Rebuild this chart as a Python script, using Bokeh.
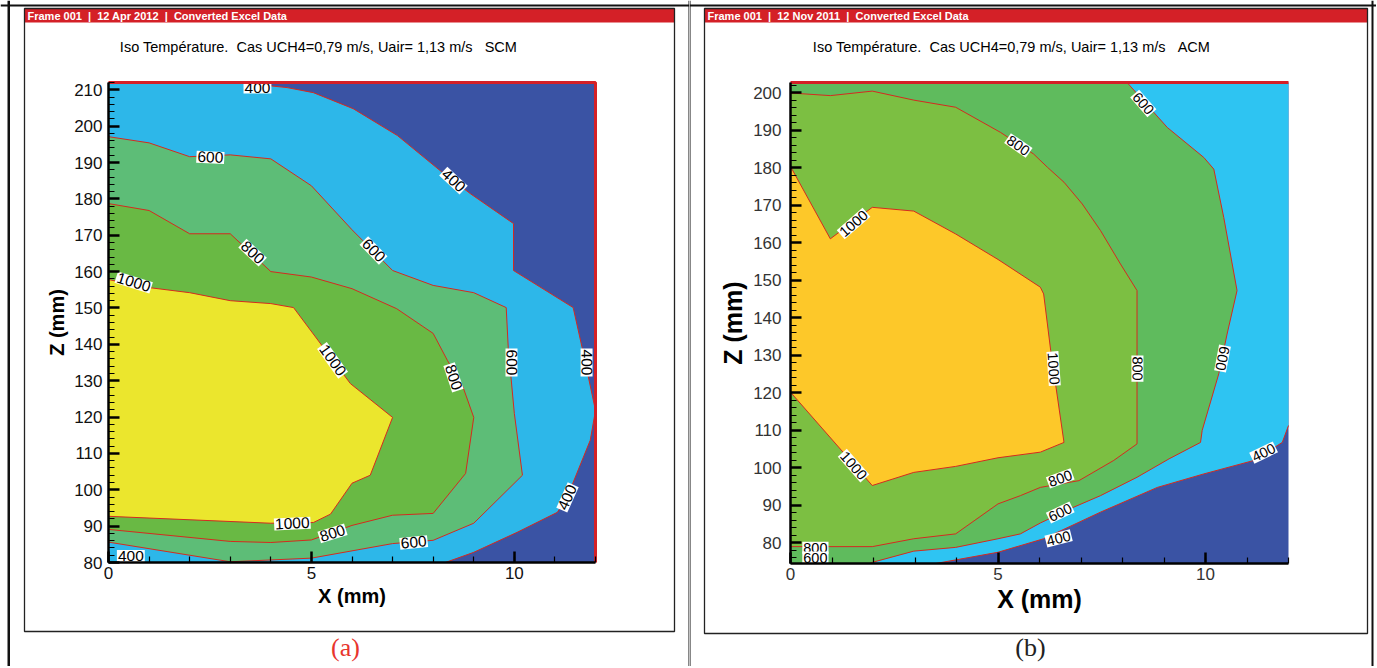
from bokeh.plotting import figure
from bokeh.layouts import row
from bokeh.models import LinearAxis, FixedTicker, Range1d
from bokeh.core.properties import value
from bokeh.embed import file_html
from bokeh.resources import INLINE

# ---------------- data : panel (a) SCM ----------------
A_X_LIM = (0, 12)
A_Z_LIM = (80, 212)
a_x_ticks = [0, 5, 10]
a_z_ticks = list(range(80, 211, 10))

a_iso400_x = [3.2, 4.4, 5.05, 6.03, 7.12, 8.18, 8.92, 9.98, 9.98, 11.45, 11.67, 12.0, 11.87, 11.3, 11.06, 10.07, 9.0, 8.3]
a_iso400_z = [212, 210.6, 209.2, 204.8, 197.4, 187.7, 181.4, 173.2, 160.3, 150.1, 139.1, 121.8, 113.6, 97.9, 93.8, 88.3, 82.8, 80]

a_iso600_x = [0, 1.0, 2.0, 3.0, 4.0, 5.0, 6.0, 7.0, 8.0, 9.0, 9.8, 9.85, 10.0, 10.2, 9.0, 8.0, 7.0, 5.0, 3.0, 0]
a_iso600_z = [197.1, 195.4, 191.6, 192.1, 191.0, 183.6, 171.5, 160.3, 156.2, 154.2, 150.1, 139.1, 121.0, 104.0, 90.8, 86.1, 85.2, 81.2, 80.2, 85.6]

a_iso800_x = [0, 1.0, 2.0, 3.0, 4.0, 5.0, 6.0, 7.1, 8.0, 8.35, 8.74, 9.0, 8.8, 8.0, 7.0, 6.0, 5.0, 4.0, 3.0, 0]
a_iso800_z = [178.7, 176.8, 170.4, 170.4, 160.0, 158.5, 155.3, 149.8, 143.0, 135.6, 128.1, 119.9, 104.5, 93.5, 93.0, 90.2, 86.2, 85.5, 85.8, 89.1]

a_iso1000_x = [0, 1.0, 2.0, 3.0, 4.0, 4.56, 5.96, 7.0, 6.45, 6.0, 5.47, 5.05, 4.0, 0]
a_iso1000_z = [157.8, 155.6, 154.2, 152.0, 151.2, 150.1, 129.2, 119.9, 104.0, 101.8, 93.3, 91.0, 90.8, 92.7]

a_labels = [  # (x, z, text, angle)
    (3.67, 210.6, "400", 0.0), (2.51, 191.4, "600", -0.05), (3.55, 165.2, "800", -0.75),
    (0.62, 157.0, "1000", -0.3), (8.5, 185.0, "400", -0.75), (6.53, 165.8, "600", -0.8),
    (5.52, 135.6, "1000", -0.95), (8.5, 130.9, "800", -1.25), (9.93, 135.0, "600", -1.57),
    (11.78, 135.0, "400", -1.57), (11.31, 97.9, "400", 1.15), (4.53, 90.7, "1000", 0.05),
    (5.52, 88.0, "800", 0.3), (7.52, 85.5, "600", 0.1), (0.55, 81.8, "400", 0.0),
]

# ---------------- data : panel (b) ACM ----------------
B_X_LIM = (0, 12)
B_Z_LIM = (74.4, 202.7)
b_x_ticks = [0, 5, 10]
b_z_ticks = list(range(80, 201, 10))

b_iso400_x = [3.5, 5.0, 6.1, 7.47, 8.84, 9.96, 11.17, 11.85, 12.0]
b_iso400_z = [74.4, 77.4, 81.0, 88.1, 94.7, 98.3, 101.9, 106.7, 111.2]

b_iso600_x = [1.9, 1.97, 2.97, 3.98, 5.0, 5.54, 6.02, 6.8, 7.47, 8.35, 9.12, 9.88, 9.92, 10.32, 10.52, 10.76, 10.44, 10.2, 9.96, 9.08, 8.11]
b_iso600_z = [74.4, 74.7, 77.7, 78.7, 81.0, 82.3, 85.2, 89.3, 92.5, 97.4, 102.3, 106.7, 109.9, 125.0, 135.6, 147.2, 166.7, 179.6, 182.7, 190.7, 202.7]

b_iso800_x = [0, 1.97, 2.97, 3.98, 5.0, 5.54, 6.02, 6.95, 7.79, 8.35, 8.35, 7.95, 7.47, 7.03, 6.59, 6.19, 5.86, 5.06, 3.98, 2.97, 1.97, 0.96, 0]
b_iso800_z = [78.9, 78.9, 81.0, 82.3, 90.3, 92.5, 94.7, 96.5, 101.9, 106.3, 147.2, 154.3, 163.2, 170.3, 176.1, 180.1, 183.6, 189.4, 196.1, 198.0, 200.4, 199.2, 199.9]

b_iso1000_x = [0, 0.96, 1.97, 2.97, 3.98, 5.0, 6.02, 6.1, 6.27, 6.59, 6.02, 5.0, 3.98, 2.97, 1.97, 0]
b_iso1000_z = [180.3, 161.0, 169.4, 168.4, 162.3, 155.5, 148.1, 146.3, 131.2, 106.7, 104.1, 102.6, 100.3, 98.7, 95.2, 120.1]

b_labels = [
    (5.49, 185.9, "800", -0.6), (1.52, 165.1, "1000", 0.72), (8.5, 197.1, "600", -0.85),
    (6.34, 126.4, "1000", -1.5), (8.36, 126.4, "800", -1.57), (10.41, 129.1, "600", -1.76),
    (11.4, 104.0, "400", 0.45), (6.5, 97.1, "800", 0.35), (6.5, 88.0, "600", 0.45),
    (6.46, 81.1, "400", 0.25), (1.52, 100.5, "1000", -0.85), (0.6, 78.6, "800", 0.0),
    (0.6, 76.0, "600", 0.0),
]

NB = "\u00a0"
A_HEADER = f"Frame 001{NB}{NB}|{NB}{NB}12 Apr 2012{NB}{NB}|{NB}{NB}Converted Excel Data"
B_HEADER = f"Frame 001{NB}{NB}|{NB}{NB}12 Nov 2011{NB}{NB}|{NB}{NB}Converted Excel Data"
A_TITLE = f"Iso Température.{NB}{NB}Cas UCH4=0,79 m/s, Uair= 1,13 m/s{NB}{NB}{NB}SCM"
B_TITLE = f"Iso Température.{NB}{NB}Cas UCH4=0,79 m/s, Uair= 1,13 m/s{NB}{NB}{NB}ACM"

A_COLORS = ["#3A53A4", "#2DB7E9", "#5DBD77", "#69B944", "#EBE62D"]
B_COLORS = ["#3A53A4", "#2EC4F2", "#5FBB5D", "#7CBF42", "#FDC829"]
LINE_RED = "#D42A20"
HEADER_RED = "#D42027"
FONT = "Liberation Sans"
HEIGHT = 666


def make_mapper(px0, px1, xlim, py0, py1, zlim):
    """page pixel -> data coordinate (plot box given by its page pixels)"""
    def fx(px):
        return xlim[0] + (px - px0) * (xlim[1] - xlim[0]) / (px1 - px0)

    def fy(py):
        return zlim[1] - (py - py0) * (zlim[1] - zlim[0]) / (py1 - py0)
    return fx, fy


def build(xlim, zlim, x_ticks, z_ticks, lines, colors, labels, canvas_left, width,
          plot_px, tick_size, tick_color, label_size, label_font_size, ystandoff, xlabel_standoff,
          red_right, deco):
    fx, fy = make_mapper(plot_px[0], plot_px[1], xlim, plot_px[2], plot_px[3], zlim)
    p = figure(width=width, height=HEIGHT,
               x_range=Range1d(fx(canvas_left), fx(canvas_left + width)),
               y_range=Range1d(fy(HEIGHT), fy(0)),
               x_axis_location=None, y_axis_location=None,
               output_backend="svg", toolbar_location=None,
               min_border_left=0, min_border_right=0, min_border_top=0, min_border_bottom=0)
    p.background_fill_color = "white"
    p.border_fill_color = "white"
    p.outline_line_color = None
    p.grid.visible = False

    # ---- page decorations (panel box, header bar, title, caption, table rules)
    box = deco["box"]
    p.quad(left=[fx(box[0])], right=[fx(box[2])], top=[fy(box[1])], bottom=[fy(box[1] + 14)],
           fill_color=HEADER_RED, line_color=None)
    p.quad(left=[fx(box[0])], right=[fx(box[2])], top=[fy(box[1])], bottom=[fy(box[3])],
           fill_color=None, line_color="#222222", line_width=1.3)
    for (x0, x1) in deco["rules"]:
        p.quad(left=[fx(x0)], right=[fx(x1)], top=[fy(0)], bottom=[fy(HEIGHT)],
               fill_color="#111111", line_color=None)
    p.quad(left=[fx(canvas_left)], right=[fx(canvas_left + width)], top=[fy(4)], bottom=[fy(6)],
           fill_color="#111111", line_color=None)
    p.text(x=[fx(box[0] + 3)], y=[fy(box[1] + 7.5)], text=[deco["header"]], text_color="white",
           text_font=value(FONT), text_font_style="bold", text_font_size=value("11px"),
           text_baseline="middle", text_align="left")
    p.text(x=[fx(deco["title_cx"])], y=[fy(46)], text=[deco["title"]], text_color="black",
           text_font=value(FONT), text_font_size=value("14.5px"),
           text_baseline="middle", text_align="center")
    p.text(x=[fx(deco["tag_cx"])], y=[fy(647)], text=[deco["tag"]], text_color=deco["tag_color"],
           text_font=value("Liberation Serif"), text_font_size=value("26px"),
           text_baseline="middle", text_align="center")

    # ---- plot area
    p.quad(left=[xlim[0]], right=[xlim[1]], bottom=[zlim[0]], top=[zlim[1]],
           fill_color=colors[0], line_color=None)
    for k, (xs, zs) in enumerate(lines):
        px, pz = list(xs), list(zs)
        if k == 0:
            if zs[-1] > zlim[0] + 1:   # 400 line ends on the right edge
                px += [xlim[1], xlim[0], xlim[0]]
                pz += [zlim[1], zlim[1], zlim[0]]
            else:                      # 400 line ends on the bottom edge
                px += [xlim[0], xlim[0]]
                pz += [zlim[0], zlim[1]]
        elif xs[0] != 0 or xs[-1] != 0:
            px += [xlim[0], xlim[0]]
            pz += [zlim[1], zlim[0]]
        p.patch(px, pz, fill_color=colors[k + 1], line_color=None)
    for xs, zs in lines:
        p.line(list(xs), list(zs), line_color=LINE_RED, line_width=1)

    p.text(x=[l[0] for l in labels], y=[l[1] for l in labels], text=[l[2] for l in labels],
           angle=[l[3] for l in labels], text_align="center", text_baseline="middle",
           text_font=value(FONT), text_font_size=value(label_font_size), text_color="black",
           background_fill_color="white", padding=1)

    # red frame edges
    if red_right:
        p.line([xlim[0], xlim[1], xlim[1]], [zlim[1], zlim[1], zlim[0]], line_color=HEADER_RED, line_width=3)
    else:
        p.line([xlim[0], xlim[1]], [zlim[1], zlim[1]], line_color=HEADER_RED, line_width=3)

    # ---- axes fixed on the plot box
    xa = LinearAxis(fixed_location=zlim[0], bounds=xlim, axis_label="X (mm)")
    ya = LinearAxis(fixed_location=xlim[0], bounds=zlim, axis_label="Z (mm)")
    xa.ticker = FixedTicker(ticks=x_ticks, minor_ticks=list(range(int(xlim[0]), int(xlim[1]) + 1)))
    ya.ticker = FixedTicker(ticks=z_ticks,
                            minor_ticks=[z for z in range(70, 214, 2) if zlim[0] <= z <= zlim[1]])
    for ax in (xa, ya):
        ax.major_tick_in = 11
        ax.major_tick_out = 0
        ax.minor_tick_in = 6
        ax.minor_tick_out = 0
        ax.major_tick_line_width = 2.5
        ax.minor_tick_line_width = 1.2
        ax.axis_line_width = 2.5
        ax.axis_line_color = "black"
        ax.major_label_text_font = FONT
        ax.major_label_text_font_size = tick_size
        ax.major_label_text_color = tick_color
        ax.axis_label_text_font = FONT
        ax.axis_label_text_font_style = "bold"
        ax.axis_label_text_font_size = label_size
        ax.axis_label_text_color = "black"
    ya.major_label_standoff = ystandoff
    ya.axis_label_standoff = 3
    xa.major_label_standoff = 4
    xa.axis_label_standoff = xlabel_standoff
    p.add_layout(xa, "below")
    p.add_layout(ya, "left")
    return p


pa = build(A_X_LIM, A_Z_LIM, a_x_ticks, a_z_ticks,
           [(a_iso400_x, a_iso400_z), (a_iso600_x, a_iso600_z), (a_iso800_x, a_iso800_z), (a_iso1000_x, a_iso1000_z)],
           A_COLORS, a_labels, 0, 689, (108, 595, 82, 562), "17px", "#111111", "20px", "15.5px", 6, 3, True,
           dict(box=(24, 8, 674, 631), rules=[(7, 9.5), (688, 689)],
                header=A_HEADER, title=A_TITLE, title_cx=318, tag="(a)", tag_cx=345, tag_color="#E8352E"))
pb = build(B_X_LIM, B_Z_LIM, b_x_ticks, b_z_ticks,
           [(b_iso400_x, b_iso400_z), (b_iso600_x, b_iso600_z), (b_iso800_x, b_iso800_z), (b_iso1000_x, b_iso1000_z)],
           B_COLORS, b_labels, 689, 687, (790, 1288, 82, 563), "17px", "#333333", "25px", "14.5px", 9, 2, False,
           dict(box=(704, 8, 1367, 633), rules=[(689, 690), (1371, 1373)],
                header=B_HEADER, title=B_TITLE, title_cx=1011, tag="(b)", tag_cx=1030, tag_color="#222222"))

layout = row(pa, pb, spacing=0)
open("out.html", "w").write(file_html(layout, INLINE))
